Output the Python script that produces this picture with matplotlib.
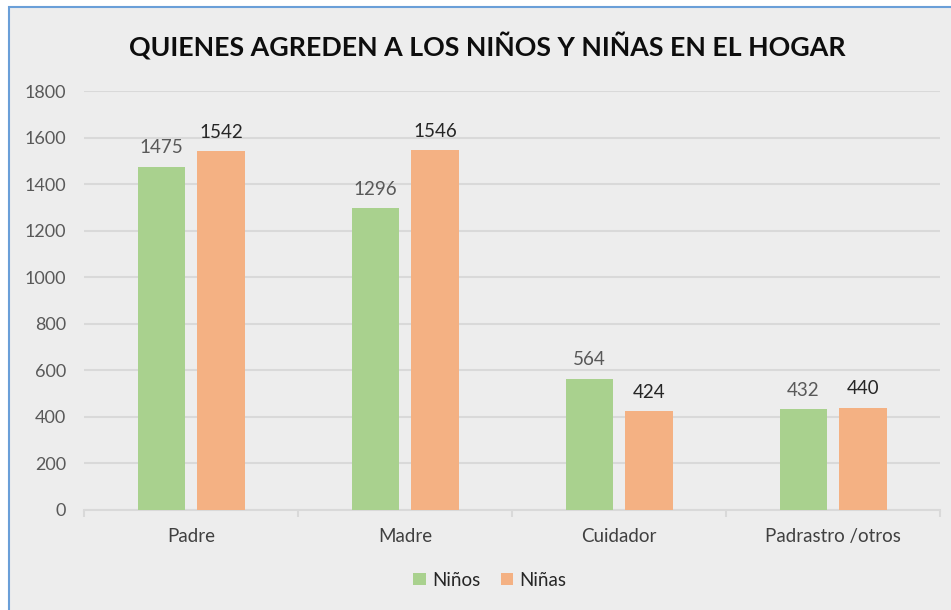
import numpy as np
import matplotlib
matplotlib.use("Agg")
import matplotlib.pyplot as plt
from matplotlib.patches import Rectangle

categories = ["Padre", "Madre", "Cuidador", "Padrastro /otros"]
ninos = [1475, 1296, 564, 432]
ninas = [1542, 1546, 424, 440]
series_names = ["Niños", "Niñas"]

plt.rcParams["font.family"] = ["Lato", "DejaVu Sans"]

W, H = 951, 610
fig = plt.figure(figsize=(W / 100, H / 100), dpi=100, facecolor="white")

# chart area frame (light grey with blue border)
frame = Rectangle((9 / W, -0.05), 1.2, 1 - 7 / H + 0.05, transform=fig.transFigure,
                  facecolor="#ededed", edgecolor="#6a9fd8", linewidth=1.5, zorder=-10)
fig.patches.append(frame)

ax = fig.add_axes([84 / W, 1 - 510 / H, (940 - 84) / W, (510 - 91) / H])
ax.set_facecolor("none")

x = np.arange(len(categories))
bw = 0.22
gap = 0.06
off = (bw + gap) / 2
green = "#a9d18e"
orange = "#f4b183"

b1 = ax.bar(x - off, ninos, bw, color=green, label=series_names[0], zorder=3)
b2 = ax.bar(x + off, ninas, bw, color=orange, label=series_names[1], zorder=3)

for rect, v in zip(b1, ninos):
    ax.text(rect.get_x() + rect.get_width() / 2, v + 45, str(v), ha="center", va="bottom",
            fontsize=13.5, color="#595959")
for rect, v in zip(b2, ninas):
    ax.text(rect.get_x() + rect.get_width() / 2, v + 45, str(v), ha="center", va="bottom",
            fontsize=13.5, color="#262626")

ax.set_xlim(-0.5, len(categories) - 0.5)
ax.set_ylim(0, 1800)
ax.set_yticks(np.arange(0, 1801, 200))
ax.yaxis.grid(True, color="#d9d9d9", linewidth=1.5, zorder=0)
ax.set_axisbelow(True)

for s in ["top", "right", "left"]:
    ax.spines[s].set_visible(False)
ax.spines["bottom"].set_color("#d9d9d9")
ax.spines["bottom"].set_linewidth(1.5)

ax.tick_params(axis="y", length=0, pad=13, labelsize=13, labelcolor="#595959")
ax.set_xticks(x)
ax.set_xticklabels(categories)
ax.tick_params(axis="x", which="major", length=0, pad=13, labelsize=13.5, labelcolor="#404040")
ax.set_xticks(np.arange(-0.5, len(categories)), minor=True)
ax.tick_params(axis="x", which="minor", length=5, width=1.5, color="#d9d9d9")

fig.text(487 / W, 1 - 46 / H, "QUIENES AGREDEN A LOS NIÑOS Y NIÑAS EN EL HOGAR",
         ha="center", va="center", fontsize=19.3, fontweight="bold", color="#0d0d0d")

fig.legend(handles=[b1, b2], labels=series_names, loc="center", bbox_to_anchor=(490 / W, 1 - 580 / H),
           ncol=2, frameon=False, fontsize=13.5, handlelength=0.65, handleheight=0.65,
           handletextpad=0.35, columnspacing=1.1, labelcolor="#262626")

fig.savefig("out.png", dpi=100, facecolor=fig.get_facecolor())
